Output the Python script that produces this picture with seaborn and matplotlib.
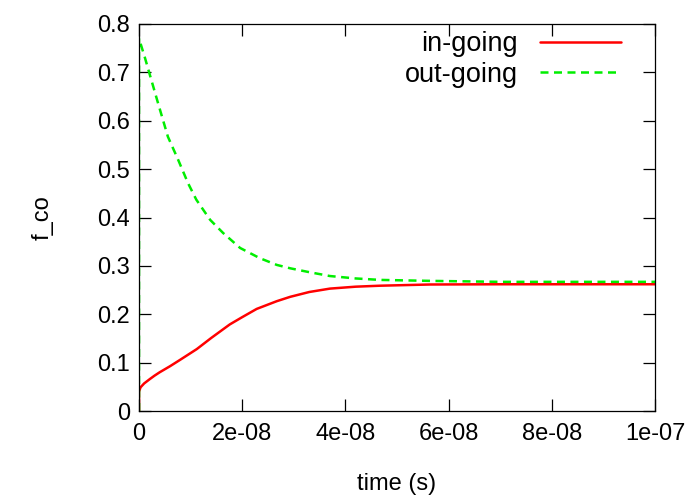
import matplotlib
matplotlib.use("Agg")
import matplotlib.pyplot as plt
import seaborn as sns
import pandas as pd

# ---- data ----
t_in = [0, 0, 0.3e-9, 1e-9, 2.1e-9, 3e-9, 4e-9, 6e-9, 8e-9, 1.12e-8, 1.4e-8, 1.76e-8,
        2.0e-8, 2.28e-8, 2.67e-8, 2.93e-8, 3.3e-8, 3.7e-8, 4.2e-8, 4.67e-8,
        5.64e-8, 7e-8, 8.5e-8, 1e-7]
f_in = [0, 0.04, 0.049, 0.057, 0.066, 0.073, 0.08, 0.0925, 0.106, 0.128, 0.151, 0.179,
        0.194, 0.211, 0.227, 0.236, 0.246, 0.253, 0.257, 0.259,
        0.2615, 0.262, 0.262, 0.262]

t_out = [0, 0, 1.1e-9, 2.4e-9, 3.7e-9, 5.6e-9, 7.6e-9, 9.5e-9, 1.11e-8, 1.18e-8,
         1.38e-8, 1.63e-8, 1.96e-8, 2.34e-8, 2.67e-8, 2.93e-8, 3.3e-8, 3.7e-8,
         4.2e-8, 4.67e-8, 5.64e-8, 7e-8, 8.5e-8, 1e-7]
f_out = [0, 0.77, 0.732, 0.684, 0.636, 0.567, 0.519, 0.471, 0.437, 0.426,
         0.395, 0.368, 0.337, 0.316, 0.302, 0.295, 0.287, 0.279,
         0.274, 0.271, 0.269, 0.267, 0.267, 0.267]

x_ticks = [0, 2e-8, 4e-8, 6e-8, 8e-8, 1e-7]
x_tick_labels = ["0", "2e-08", "4e-08", "6e-08", "8e-08", "1e-07"]
y_ticks = [0, 0.1, 0.2, 0.3, 0.4, 0.5, 0.6, 0.7, 0.8]
y_tick_labels = ["0", "0.1", "0.2", "0.3", "0.4", "0.5", "0.6", "0.7", "0.8"]

series_names = ["in-going", "out-going"]

# ---- style ----
sns.set_style("white")
plt.rcParams['font.family'] = ['Liberation Sans', 'DejaVu Sans']
plt.rcParams['font.size'] = 17
plt.rcParams['text.color'] = 'black'
plt.rcParams['axes.labelcolor'] = 'black'

fig = plt.figure(figsize=(6.96, 4.95), dpi=100)
ax = fig.add_axes([139/696, 84/495, 516/696, 387/495])

df_in = pd.DataFrame({"t": t_in, "f": f_in})
df_out = pd.DataFrame({"t": t_out, "f": f_out})

sns.lineplot(data=df_in, x="t", y="f", ax=ax, sort=False, estimator=None,
             color="#ff0000", linewidth=1.8, label=series_names[0])
sns.lineplot(data=df_out, x="t", y="f", ax=ax, sort=False, estimator=None,
             color="#00ee00", linewidth=1.8, label=series_names[1],
             dashes=False)
ax.lines[1].set_dashes((3.2, 2.2))

ax.set_xlim(0, 1e-7)
ax.set_ylim(0, 0.8)
ax.set_xticks(x_ticks)
ax.set_xticklabels(x_tick_labels)
ax.set_yticks(y_ticks)
ax.set_yticklabels(y_tick_labels)

for s in ax.spines.values():
    s.set_visible(True)
    s.set_color("black")
    s.set_linewidth(0.9)

ax.tick_params(direction="in", length=8.5, width=0.9, color="black",
               top=True, right=True, bottom=True, left=True,
               labelsize=17, labelcolor="black")
ax.tick_params(axis="x", pad=9)
ax.tick_params(axis="y", pad=6.5)

ax.set_xlabel("time (s)", fontsize=17, color="black")
ax.set_ylabel("f_co", fontsize=17, color="black")
ax.xaxis.set_label_coords(0.5, -0.16)
ax.yaxis.set_label_coords(-0.165, 0.5)

leg = ax.legend(loc="upper right", bbox_to_anchor=((621-139)/516, (411-31)/387),
                frameon=False, markerfirst=False, borderaxespad=0, borderpad=0,
                handlelength=3.0, handletextpad=0.8, labelspacing=0.18,
                prop={"size": 19.5})
for txt in leg.get_texts():
    txt.set_color("black")
leg.get_lines()[1].set_dashes((3.2, 2.2))

fig.savefig("out.png", dpi=100)
